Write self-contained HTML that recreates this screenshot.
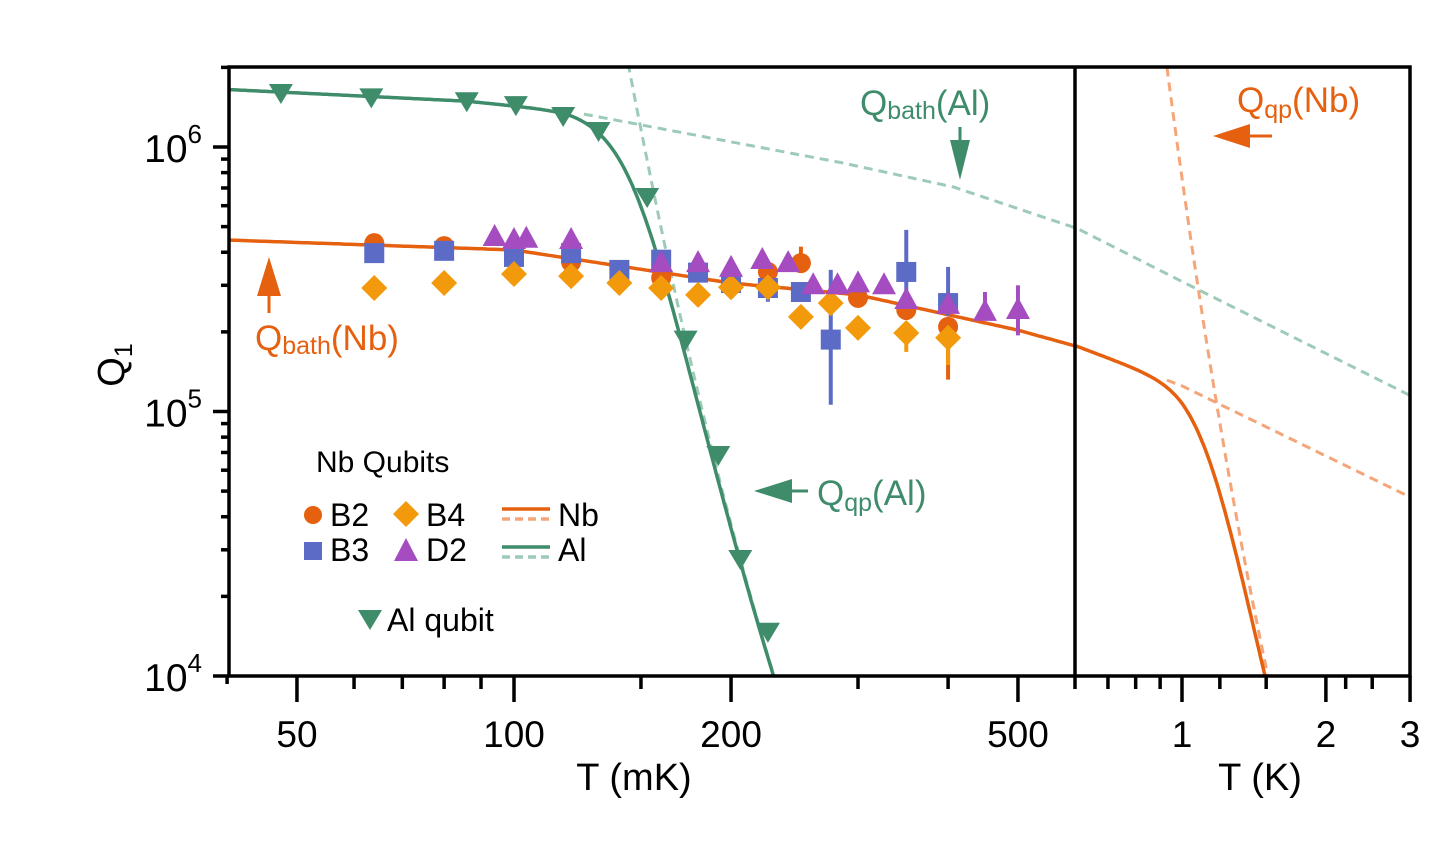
<!DOCTYPE html>
<html><head><meta charset="utf-8">
<style>
html,body{margin:0;padding:0;background:#fff;overflow:hidden;width:1456px;height:843px;}
svg{display:block;font-family:"Liberation Sans",Arial,sans-serif;}
</style></head>
<body>
<svg id="chart" width="1456" height="843" viewBox="0 0 1456 843" xmlns="http://www.w3.org/2000/svg">
<defs><clipPath id="plotclip"><rect x="229" y="67" width="1181" height="609"/></clipPath></defs>
<g id="curves" clip-path="url(#plotclip)"></g>
<g id="marks"></g>
<g id="axes"></g>
<text transform="translate(124,365) rotate(-90)" text-anchor="middle" font-size="38">Q<tspan font-size="25" dy="8">1</tspan></text>
<text x="634" y="790" text-anchor="middle" font-size="38">T (mK)</text>
<text x="1260" y="790" text-anchor="middle" font-size="38">T (K)</text>
<g fill="#3f8c6b">
<text x="860" y="115" font-size="35">Q<tspan font-size="25" dy="4">bath</tspan><tspan dy="-4">(Al)</tspan></text>
<line x1="960" y1="127" x2="960" y2="150" stroke="#3f8c6b" stroke-width="3"/>
<polygon points="950,140 970,140 960,180"/>
</g>
<g fill="#e5600f">
<text x="1237" y="112" font-size="35">Q<tspan font-size="25" dy="6">qp</tspan><tspan dy="-6">(Nb)</tspan></text>
<line x1="1240" y1="136" x2="1272" y2="136" stroke="#e5600f" stroke-width="3"/>
<polygon points="1213,136 1250,124 1250,148"/>
</g>
<g fill="#e5600f">
<text x="255" y="350" font-size="35">Q<tspan font-size="25" dy="4">bath</tspan><tspan dy="-4">(Nb)</tspan></text>
<line x1="269" y1="285" x2="269" y2="313" stroke="#e5600f" stroke-width="3"/>
<polygon points="257,296 281,296 269,257"/>
</g>
<g fill="#3f8c6b">
<text x="817" y="505" font-size="35">Q<tspan font-size="25" dy="6">qp</tspan><tspan dy="-6">(Al)</tspan></text>
<line x1="780" y1="491" x2="808" y2="491" stroke="#3f8c6b" stroke-width="3"/>
<polygon points="754,491 792,479 792,503"/>
</g>
<g font-size="32">
<text x="316" y="472" font-size="30">Nb Qubits</text>
<g><circle cx="313" cy="515" r="9" fill="#e5600f"/><text x="330" y="526">B2</text></g>
<g><polygon points="406,501 419,514 406,527 393,514" fill="#f29a0c"/><text x="426" y="526">B4</text></g>
<g><line x1="502" y1="509" x2="550" y2="509" stroke="#e5600f" stroke-width="3.5"/><line x1="502" y1="519" x2="550" y2="519" stroke="#f4a57a" stroke-width="3.5" stroke-dasharray="8,5"/><text x="558" y="526">Nb</text></g>
<g><rect x="304" y="542" width="18" height="18" fill="#5b6bc6"/><text x="330" y="561">B3</text></g>
<g><polygon points="406,538 418,561 394,561" fill="#a44cc0"/><text x="426" y="561">D2</text></g>
<g><line x1="502" y1="547" x2="550" y2="547" stroke="#3f8c6b" stroke-width="3.5"/><line x1="502" y1="557" x2="550" y2="557" stroke="#9ecbb8" stroke-width="3.5" stroke-dasharray="8,5"/><text x="558" y="561">Al</text></g>
<g><polygon points="358,610 382,610 370,630" fill="#3f8c6b"/><text x="387" y="631">Al qubit</text></g>
</g>
</svg>
<script>
// ---- data (T in mK, Q dimensionless) ----
const b2T = [64,80,100,120,160,225,250,300,350,400];
const b2Q = [4.33e5,4.22e5,3.8e5,3.67e5,3.2e5,3.37e5,3.64e5,2.69e5,2.42e5,2.09e5];
const b2Lo = [null,null,null,null,null,null,null,null,null,1.32e5];
const b2Hi = [null,null,null,null,null,null,4.2e5,null,null,null];
const b3T = [64,80,100,120,140,160,180,200,225,250,275,350,400];
const b3Q = [3.97e5,4.05e5,3.84e5,3.97e5,3.43e5,3.75e5,3.35e5,3.06e5,2.93e5,2.83e5,1.87e5,3.37e5,2.57e5];
const b3Lo = [null,null,null,null,null,null,null,null,2.6e5,null,1.06e5,2.22e5,2.3e5];
const b3Hi = [null,null,null,null,null,null,null,null,null,null,3.43e5,4.86e5,3.52e5];
const b4T = [64,80,100,120,140,160,180,200,225,250,275,300,350,400];
const b4Q = [2.93e5,3.06e5,3.31e5,3.25e5,3.06e5,2.93e5,2.76e5,2.95e5,2.95e5,2.28e5,2.57e5,2.07e5,1.98e5,1.9e5];
const b4Lo = [null,null,null,null,null,null,null,null,null,null,null,1.95e5,1.68e5,1.5e5];
const d2T = [94,100,104,120,160,180,200,221,240,260,281,300,326,350,400,450,500];
const d2Q = [4.57e5,4.45e5,4.5e5,4.45e5,3.64e5,3.64e5,3.49e5,3.74e5,3.64e5,3.0e5,3.0e5,3.05e5,3.0e5,2.64e5,2.53e5,2.38e5,2.42e5];
const d2Lo = [null,null,null,null,null,null,null,null,null,null,null,null,null,null,null,2.22e5,1.94e5];
const d2Hi = [null,null,null,null,null,null,null,null,null,null,null,null,null,null,null,2.83e5,3.0e5];
const alT = [47.5,63.4,86,100.6,117,131,153,173,192,206,225];
const alQ = [1.6e6,1.54e6,1.49e6,1.44e6,1.31e6,1.15e6,6.47e5,1.87e5,6.85e4,2.77e4,1.47e4];
// model curve parameters
const nbBathT = [40,100,200,300,500,600,1000,3000];
const nbBathQ = [4.45e5,4.08e5,3.06e5,2.76e5,2.03e5,1.77e5,1.25e5,4.75e4];
const alBathT = [40,86,120,286,407,600,1000,3000];
const alBathQ = [1.65e6,1.49e6,1.36e6,8.7e5,7.06e5,4.95e5,3.1e5,1.15e5];
const alQp = [1.24, 2063];   // prefactor, gap (mK)
const nbQp = [2.13, 12790];
// tick labels
const xTicksMk = [50,100,200,500];
const xTicksK = [1,2,3];
const yTicks = [4,5,6];

const NS = "http://www.w3.org/2000/svg";
function xOf(T){ return T<=600 ? 514+721*Math.log10(T/100) : 1182+478*Math.log10(T/1000); }
function yOf(Q){ return 147-264.5*(Math.log10(Q)-6); }
function mk(tag, attrs, parent){ const e=document.createElementNS(NS,tag); for(const k in attrs) e.setAttribute(k,attrs[k]); parent.appendChild(e); return e; }
function interpLL(Ts,Qs,T){
  const lt=Math.log10(T);
  for(let i=0;i<Ts.length-1;i++){
    const a=Math.log10(Ts[i]), b=Math.log10(Ts[i+1]);
    if(lt<=b||i===Ts.length-2){ const f=(lt-a)/(b-a); return Math.pow(10,Math.log10(Qs[i])+f*(Math.log10(Qs[i+1])-Math.log10(Qs[i]))); }
  }
}
function qp(p,T){ return p[0]*Math.exp(p[1]/T); }
const curves=document.getElementById('curves');
function path(fn,T0,T1,color,dash,name){
  let d=""; const n=400;
  for(let i=0;i<=n;i++){ const T=T0*Math.pow(T1/T0,i/n); let q=fn(T); q=Math.min(Math.max(q,1e3),1e8);
    d+=(i?"L":"M")+xOf(T).toFixed(1)+","+yOf(q).toFixed(1); }
  const p=mk('path',{d:d,fill:'none',stroke:color,'stroke-width':dash?3:3.5},curves);
  if(dash) p.setAttribute('stroke-dasharray','9,6');
  
  
}
path(T=>interpLL(alBathT,alBathQ,T),125,3000,'#9ecbb8',true,'al-bath-dashed');
path(T=>qp(alQp,T),130,300,'#9ecbb8',true,'al-qp-dashed');
path(T=>interpLL(nbBathT,nbBathQ,T),930,3000,'#f4a57a',true,'nb-bath-dashed');
path(T=>qp(nbQp,T),850,2000,'#f4a57a',true,'nb-qp-dashed');
path(T=>1/(1/interpLL(nbBathT,nbBathQ,T)+1/qp(nbQp,T)),40,2000,'#e5600f',false,'nb-total-curve');
path(T=>1/(1/interpLL(alBathT,alBathQ,T)+1/qp(alQp,T)),40,300,'#3f8c6b',false,'al-total-curve');

const marks=document.getElementById('marks');
function errbars(Ts,Qs,lo,hi,color,name){
  for(let i=0;i<Ts.length;i++){
    if(lo&&lo[i]!=null){ const l=mk('line',{x1:xOf(Ts[i]),x2:xOf(Ts[i]),y1:yOf(Qs[i]),y2:yOf(lo[i]),stroke:color,'stroke-width':4},marks);
        }
    if(hi&&hi[i]!=null){ const l=mk('line',{x1:xOf(Ts[i]),x2:xOf(Ts[i]),y1:yOf(Qs[i]),y2:yOf(hi[i]),stroke:color,'stroke-width':4},marks);
        }
  }
}
function markers(Ts,Qs,shape,color,name){
  for(let i=0;i<Ts.length;i++){
    const x=xOf(Ts[i]), y=yOf(Qs[i]); let e;
    if(shape==='circle') e=mk('circle',{cx:x,cy:y,r:10,fill:color},marks);
    else if(shape==='square') e=mk('rect',{x:x-10,y:y-10,width:20,height:20,fill:color},marks);
    else if(shape==='diamond') e=mk('polygon',{points:`${x},${y-13} ${x+13},${y} ${x},${y+13} ${x-13},${y}`,fill:color},marks);
    else if(shape==='up') e=mk('polygon',{points:`${x},${y-13} ${x+12},${y+9} ${x-12},${y+9}`,fill:color},marks);
    else e=mk('polygon',{points:`${x-12},${y-9} ${x+12},${y-9} ${x},${y+11}`,fill:color},marks);
    
    
  }
}
errbars(b2T,b2Q,b2Lo,b2Hi,'#e5600f','b2');
errbars(b3T,b3Q,b3Lo,b3Hi,'#5b6bc6','b3');
errbars(b4T,b4Q,b4Lo,null,'#f29a0c','b4');
errbars(d2T,d2Q,d2Lo,d2Hi,'#a44cc0','d2');
markers(b2T,b2Q,'circle','#e5600f','b2');
markers(b3T,b3Q,'square','#5b6bc6','b3');
markers(b4T,b4Q,'diamond','#f29a0c','b4');
markers(d2T,d2Q,'up','#a44cc0','d2');
markers(alT,alQ,'down','#3f8c6b','al-qubit');

const axes=document.getElementById('axes');
mk('rect',{x:229,y:67,width:1181,height:609,fill:'none',stroke:'#000','stroke-width':3.5},axes);
mk('line',{x1:1075,y1:67,x2:1075,y2:676,stroke:'#000','stroke-width':3.5},axes);
// y ticks
for(let e=4;e<=6;e++){
  for(let m=1;m<10;m++){
    const q=m*Math.pow(10,e); if(q>2.05e6) break;
    const y=yOf(q);
    mk('line',{x1:m===1?213:221,x2:229,y1:y,y2:y,stroke:'#000','stroke-width':3.5},axes);
  }
}
yTicks.forEach(e=>{
  const t=mk('text',{x:202,y:yOf(Math.pow(10,e))+15,'text-anchor':'end','font-size':39},axes);
  
  
  t.innerHTML='10<tspan font-size="26" dy="-19">'+e+'</tspan>';
});
// x ticks
const minorMk=[40,60,70,80,90,150,300,400];
minorMk.forEach(T=>mk('line',{x1:xOf(T),x2:xOf(T),y1:676,y2:T===40?684:689,stroke:'#000','stroke-width':3.5},axes));
xTicksMk.forEach(T=>mk('line',{x1:xOf(T),x2:xOf(T),y1:676,y2:702,stroke:'#000','stroke-width':3.5},axes));
mk('line',{x1:1075,x2:1075,y1:676,y2:689,stroke:'#000','stroke-width':3.5},axes);
[700,800,900,1200,1500,2200,2500].forEach(T=>mk('line',{x1:xOf(T),x2:xOf(T),y1:676,y2:689,stroke:'#000','stroke-width':3.5},axes));
xTicksK.forEach(T=>mk('line',{x1:xOf(T*1000),x2:xOf(T*1000),y1:676,y2:702,stroke:'#000','stroke-width':3.5},axes));
xTicksMk.forEach(T=>{ const t=mk('text',{x:xOf(T),y:747,'text-anchor':'middle','font-size':37},axes); t.textContent=T;
    });
xTicksK.forEach(T=>{ const t=mk('text',{x:xOf(T*1000),y:747,'text-anchor':'middle','font-size':37},axes); t.textContent=T;
    });
</script>
</body></html>
